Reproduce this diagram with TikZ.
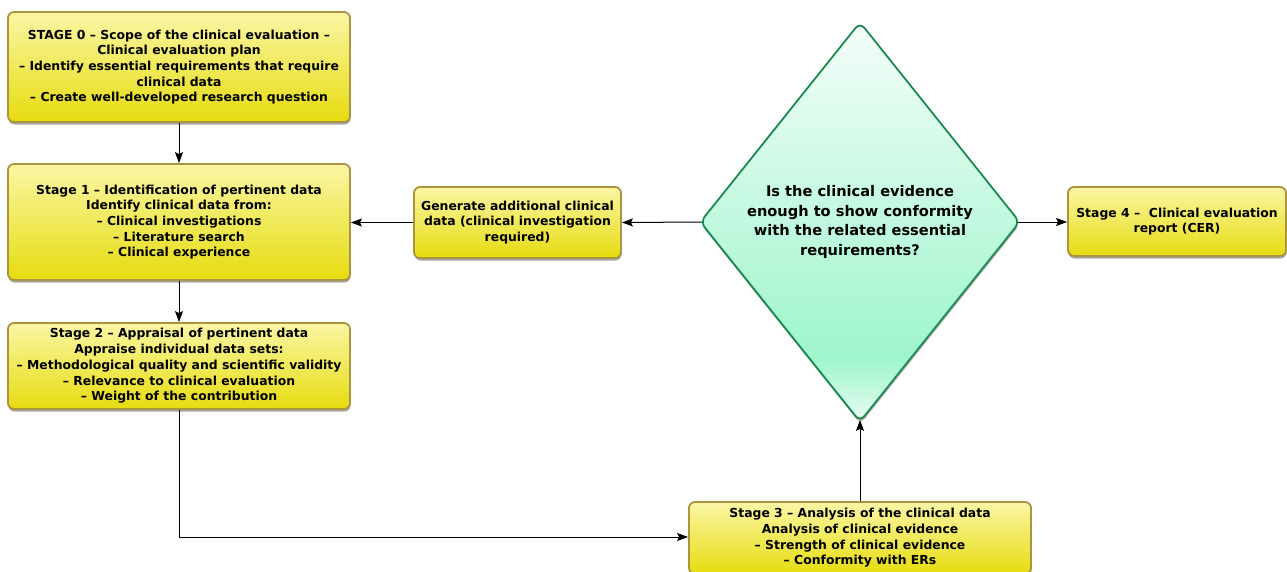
\documentclass[tikz,border=0pt]{standalone}
\usepackage{fontspec}
\setmainfont{DejaVu Sans}
\usetikzlibrary{arrows.meta,shapes.geometric,shadows}
\definecolor{ytop}{RGB}{250,246,165}
\definecolor{ybot}{RGB}{230,220,15}
\definecolor{yborder}{RGB}{172,148,62}
\definecolor{gtop}{RGB}{244,253,249}
\definecolor{gmid}{RGB}{158,245,205}
\definecolor{gbot}{RGB}{232,252,242}
\definecolor{gborder}{RGB}{28,138,78}
\pgfdeclareverticalshading{yshade}{100bp}{color(0bp)=(ybot); color(25bp)=(ybot); color(75bp)=(ytop); color(100bp)=(ytop)}
\pgfdeclareverticalshading{gshade}{100bp}{color(0bp)=(gbot); color(25bp)=(gbot); color(33bp)=(gmid); color(75bp)=(gtop); color(100bp)=(gtop)}
\tikzset{
  stagebox/.style={draw=yborder, line width=1.8pt, rounded corners=6pt, shading=yshade,
    drop shadow={shadow xshift=0.5pt, shadow yshift=-2.5pt, opacity=0.35, fill=black},
    align=center, font=\bfseries\fontsize{12.4}{15.7}\selectfont, inner sep=0pt},
  decision/.style={diamond, draw=gborder, line width=1.8pt, rounded corners=7pt, shading=gshade,
    drop shadow={shadow xshift=0.5pt, shadow yshift=-2.5pt, opacity=0.3, fill=black},
    aspect=0.8, minimum width=320pt, minimum height=400pt, inner sep=0pt,
    align=center, font=\bfseries\fontsize{14.6}{19.6}\selectfont},
  conn/.style={line width=1pt, -{Stealth[length=11pt,width=8pt,inset=2pt]}}
}
\begin{document}
\begin{tikzpicture}[x=1pt,y=-1pt]
\useasboundingbox (0,0) rectangle (1287,571);
\node[stagebox, minimum width=342pt, minimum height=110pt] (s0) at (179,67)
  {STAGE 0 – Scope of the clinical evaluation –\\Clinical evaluation plan\\– Identify essential requirements that require\\clinical data\\– Create well-developed research question};
\node[stagebox, minimum width=342pt, minimum height=116pt] (s1) at (179,222)
  {Stage 1 – Identification of pertinent data\\Identify clinical data from:\\– Clinical investigations\\– Literature search\\– Clinical experience};
\node[stagebox, minimum width=342pt, minimum height=86pt] (s2) at (179,366)
  {Stage 2 – Appraisal of pertinent data\\Appraise individual data sets:\\– Methodological quality and scientific validity\\– Relevance to clinical evaluation\\– Weight of the contribution};
\node[stagebox, minimum width=342pt, minimum height=72pt] (s3) at (860,538)
  {Stage 3 – Analysis of the clinical data\\Analysis of clinical evidence\\– Strength of clinical evidence\\– Conformity with ERs};
\node[stagebox, minimum width=207pt, minimum height=71pt] (gen) at (517.5,222.5)
  {Generate additional clinical\\data (clinical investigation\\required)};
\node[stagebox, minimum width=218pt, minimum height=69pt] (s4) at (1177,221.5)
  {Stage 4 –\ \ Clinical evaluation\\report (CER)};
\node[decision] (d) at (860,222)
  {Is the clinical evidence\\enough to show conformity\\with the related essential\\requirements?};
\coordinate (bend) at (179,537);
\draw[conn] (s0.south) -- (s1.north);
\draw[conn] (s1.south) -- (s2.north);
\draw[conn] (s2.south) -- (bend) -- (s3.west |- bend);
\draw[conn] (s3.north) -- ([yshift=3pt]d.south);
\draw[conn] ([xshift=3pt]d.west) -- (gen.east);
\draw[conn] (gen.west) -- (s1.east |- gen.west);
\draw[conn] ([xshift=-3pt]d.east) -- (s4.west |- d.east);
\end{tikzpicture}
\end{document}
